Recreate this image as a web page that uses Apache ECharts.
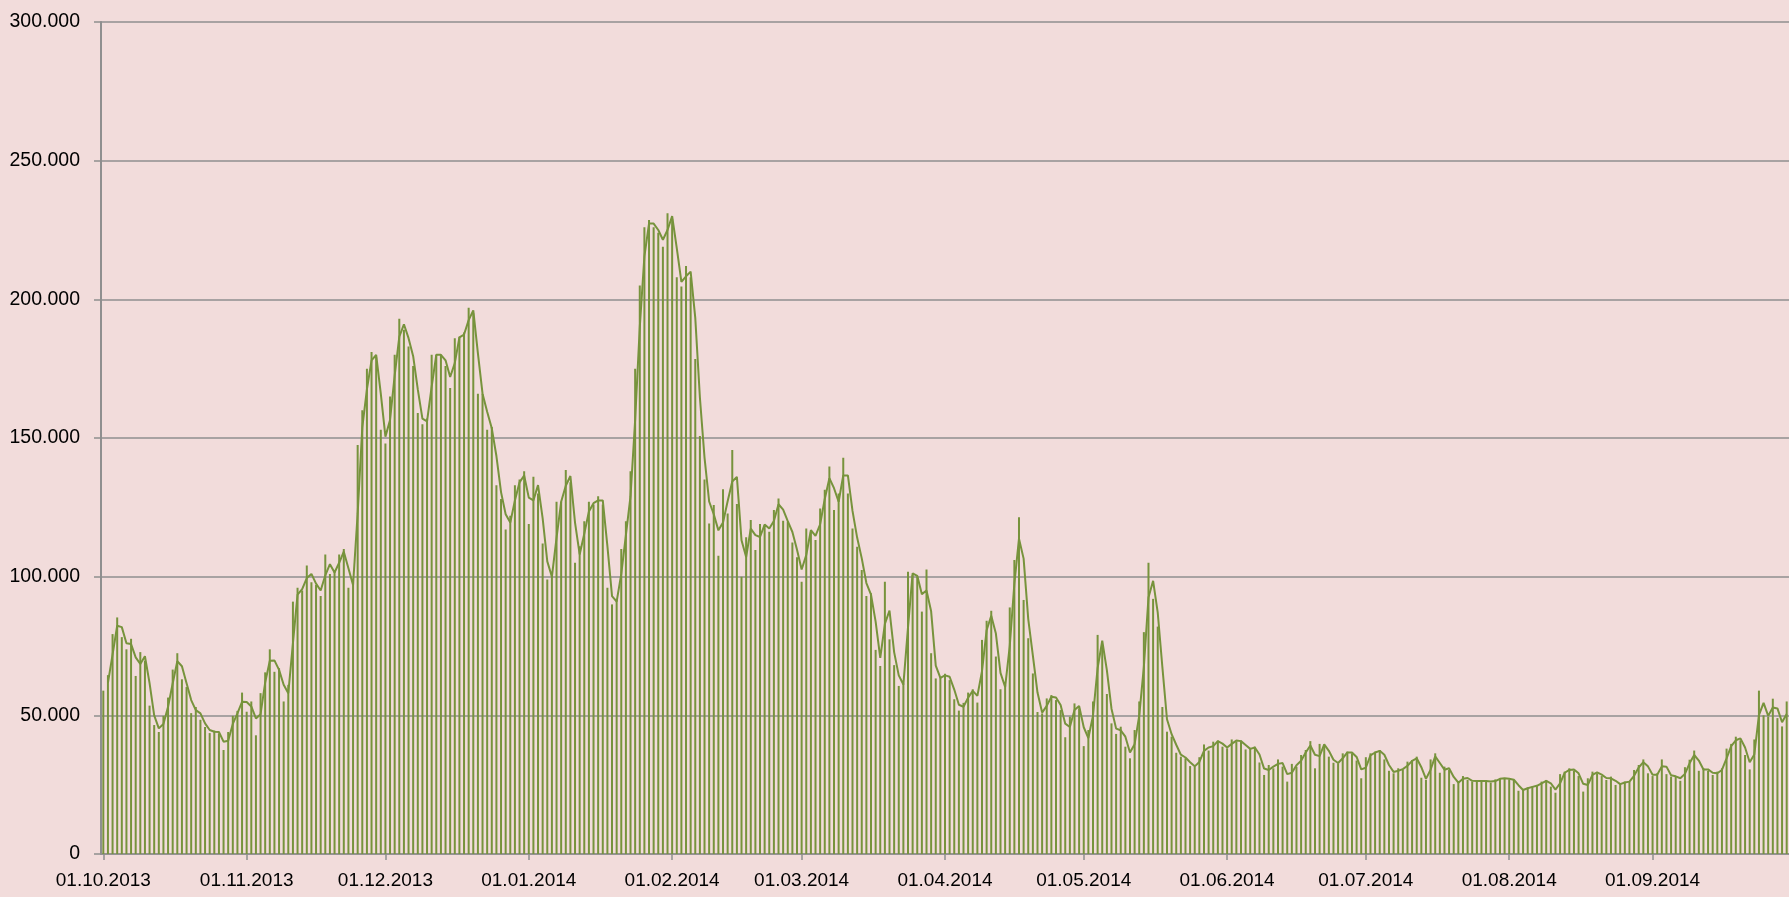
<!DOCTYPE html>
<html>
<head>
<meta charset="utf-8">
<title>Tageswerte 01.10.2013 - 30.09.2014</title>
<script src="https://cdn.jsdelivr.net/npm/echarts@6/dist/echarts.min.js"></script>
<style>
  html, body { margin: 0; padding: 0; background: #F2DCDB; }
  #chart { width: 1789px; height: 897px; }
</style>
</head>
<body>
<div id="chart"></div>
<script>
// Tageswerte (in Tausend), 01.10.2013 .. 30.09.2014
const dailyValues = [
  58.9, 64.5, 79.3, 85.3, 78.2, 73.8, 77.6, 64.2, 72.8, 69.7,
  53.5, 46.5, 44.0, 49.8, 56.4, 66.5, 72.4, 63.0, 60.2, 50.8,
  53.0, 48.4, 45.8, 43.6, 44.5, 43.5, 37.5, 44.0, 49.8, 51.6,
  58.2, 51.3, 55.0, 42.8, 58.0, 65.5, 73.8, 65.7, 67.0, 55.0,
  61.0, 91.0, 96.0, 95.0, 104.0, 98.0, 97.0, 93.0, 108.0, 101.0,
  102.0, 108.0, 110.0, 96.0, 98.0, 147.5, 160.0, 175.0, 181.0, 179.0,
  153.0, 148.0, 165.0, 180.0, 193.0, 189.0, 183.0, 176.0, 159.0, 155.0,
  157.0, 180.0, 180.0, 180.0, 176.0, 168.0, 186.0, 186.5, 188.0, 197.0,
  195.0, 166.0, 166.0, 153.0, 154.0, 133.0, 128.0, 117.0, 122.0, 133.0,
  135.0, 138.0, 119.0, 136.0, 130.0, 112.0, 99.0, 101.0, 127.0, 127.0,
  138.5, 134.0, 105.0, 111.0, 120.0, 127.0, 126.0, 129.0, 126.0, 96.0,
  90.0, 92.0, 110.0, 120.0, 138.0, 175.0, 205.0, 226.0, 228.6, 226.0,
  224.0, 219.0, 231.0, 229.0, 208.0, 204.6, 212.0, 208.0, 178.5, 150.7,
  135.0, 119.2, 125.8, 107.5, 131.5, 122.8, 145.7, 126.2, 100.0, 114.2,
  120.4, 109.6, 119.0, 118.6, 116.2, 124.0, 128.2, 120.2, 119.8, 112.3,
  107.0, 98.2, 117.4, 116.2, 113.2, 124.6, 131.3, 139.7, 124.0, 130.0,
  142.9, 130.0, 117.4, 110.8, 102.4, 93.0, 94.0, 73.6, 67.8, 98.2,
  77.4, 68.1, 60.6, 61.5, 101.8, 100.6, 100.0, 87.4, 102.6, 72.4,
  63.3, 63.7, 65.0, 62.7, 55.8, 51.7, 54.5, 58.2, 59.4, 54.6,
  77.2, 84.1, 87.7, 71.2, 59.4, 61.0, 88.9, 106.0, 121.4, 91.6,
  77.8, 65.1, 51.2, 50.7, 56.1, 57.3, 55.5, 51.9, 42.1, 49.5,
  54.3, 52.5, 38.9, 44.7, 55.0, 79.0, 74.8, 57.7, 47.1, 43.3,
  45.9, 38.7, 34.5, 44.7, 55.0, 80.0, 105.0, 92.0, 82.0, 53.0,
  44.1, 42.3, 36.5, 35.1, 34.5, 31.7, 31.5, 34.9, 39.5, 37.3,
  40.5, 40.9, 38.7, 38.1, 41.3, 40.5, 40.9, 37.7, 38.1, 38.7,
  33.0, 28.5, 32.1, 30.9, 34.1, 31.5, 26.1, 32.5, 31.5, 35.7,
  37.5, 40.7, 30.9, 39.7, 39.3, 35.1, 32.9, 32.7, 36.3, 36.9,
  36.3, 33.7, 27.3, 34.9, 36.3, 36.9, 37.5, 34.1, 30.0, 29.1,
  30.9, 30.3, 33.3, 33.9, 35.1, 27.5, 26.7, 34.1, 36.3, 29.3,
  31.5, 30.3, 25.2, 26.1, 28.1, 26.7, 26.1, 26.4, 26.1, 26.4,
  25.7, 26.9, 27.3, 27.3, 26.9, 26.7, 22.8, 23.3, 24.0, 24.3,
  24.9, 26.1, 26.7, 24.3, 22.1, 28.8, 29.7, 30.9, 30.0, 28.1,
  22.5, 27.3, 29.7, 29.1, 28.1, 26.7, 27.9, 24.9, 25.5, 26.1,
  26.1, 30.3, 32.1, 34.1, 29.1, 28.1, 29.1, 34.1, 28.8, 27.9,
  28.1, 26.4, 31.3, 34.0, 37.3, 30.0, 30.9, 30.0, 28.5, 29.7,
  30.9, 38.0, 39.7, 42.3, 41.0, 35.7, 30.5, 41.3, 58.9, 50.0,
  49.5, 56.0, 49.0, 46.0, 55.0
];

// gleitender Durchschnitt (2 Tage)
const trendValues = [
  '-', 61.7, 71.9, 82.3, 81.8, 76.0, 75.7, 70.9, 68.5, 71.3,
  61.6, 50.0, 45.3, 46.9, 53.1, 61.5, 69.5, 67.7, 61.6, 55.5,
  51.9, 50.7, 47.1, 44.7, 44.1, 44.0, 40.5, 40.8, 46.9, 50.7,
  54.9, 54.8, 53.2, 48.9, 50.4, 61.8, 69.7, 69.8, 66.4, 61.0,
  58.0, 76.0, 93.5, 95.5, 99.5, 101.0, 97.5, 95.0, 100.5, 104.5,
  101.5, 105.0, 109.0, 103.0, 97.0, 122.8, 153.8, 167.5, 178.0, 180.0,
  166.0, 150.5, 156.5, 172.5, 186.5, 191.0, 186.0, 179.5, 167.5, 157.0,
  156.0, 168.5, 180.0, 180.0, 178.0, 172.0, 177.0, 186.3, 187.3, 192.5,
  196.0, 180.5, 166.0, 159.5, 153.5, 143.5, 130.5, 122.5, 119.5, 127.5,
  134.0, 136.5, 128.5, 127.5, 133.0, 121.0, 105.5, 100.0, 114.0, 127.0,
  132.8, 136.3, 119.5, 108.0, 115.5, 123.5, 126.5, 127.5, 127.5, 111.0,
  93.0, 91.0, 101.0, 115.0, 129.0, 156.5, 190.0, 215.5, 227.3, 227.3,
  225.0, 221.5, 225.0, 230.0, 218.5, 206.3, 208.3, 210.0, 193.3, 164.6,
  142.9, 127.1, 122.5, 116.7, 119.5, 127.2, 134.3, 136.0, 113.1, 107.1,
  117.3, 115.0, 114.3, 118.8, 117.4, 120.1, 126.1, 124.2, 120.0, 116.1,
  109.7, 102.6, 107.8, 116.8, 114.7, 118.9, 128.0, 135.5, 131.9, 127.0,
  136.5, 136.5, 123.7, 114.1, 106.6, 97.7, 93.5, 83.8, 70.7, 83.0,
  87.8, 72.8, 64.4, 61.1, 81.7, 101.2, 100.3, 93.7, 95.0, 87.5,
  67.9, 63.5, 64.4, 63.9, 59.3, 53.8, 53.1, 56.4, 58.8, 57.0,
  65.9, 80.7, 85.9, 79.5, 65.3, 60.2, 75.0, 97.5, 113.7, 106.5,
  84.7, 71.5, 58.2, 51.0, 53.4, 56.7, 56.4, 53.7, 47.0, 45.8,
  51.9, 53.4, 45.7, 41.8, 49.9, 67.0, 76.9, 66.3, 52.4, 45.2,
  44.6, 42.3, 36.6, 39.6, 49.9, 67.5, 92.5, 98.5, 87.0, 67.5,
  48.6, 43.2, 39.4, 35.8, 34.8, 33.1, 31.6, 33.2, 37.2, 38.4,
  38.9, 40.7, 39.8, 38.4, 39.7, 40.9, 40.7, 39.3, 37.9, 38.4,
  35.9, 30.8, 30.3, 31.5, 32.5, 32.8, 28.8, 29.3, 32.0, 33.6,
  36.6, 39.1, 35.8, 35.3, 39.5, 37.2, 34.0, 32.8, 34.5, 36.6,
  36.6, 35.0, 30.5, 31.1, 35.6, 36.6, 37.2, 35.8, 32.1, 29.6,
  30.0, 30.6, 31.8, 33.6, 34.5, 31.3, 27.1, 30.4, 35.2, 32.8,
  30.4, 30.9, 27.8, 25.7, 27.1, 27.4, 26.4, 26.3, 26.3, 26.3,
  26.1, 26.3, 27.1, 27.3, 27.1, 26.8, 24.8, 23.1, 23.7, 24.2,
  24.6, 25.5, 26.4, 25.5, 23.2, 25.5, 29.3, 30.3, 30.5, 29.1,
  25.3, 24.9, 28.5, 29.4, 28.6, 27.4, 27.3, 26.4, 25.2, 25.8,
  26.1, 28.2, 31.2, 33.1, 31.6, 28.6, 28.6, 31.6, 31.5, 28.4,
  28.0, 27.3, 28.9, 32.7, 35.7, 33.7, 30.5, 30.5, 29.3, 29.1,
  30.3, 34.5, 38.9, 41.0, 41.7, 38.4, 33.1, 35.9, 50.1, 54.5,
  49.8, 52.8, 52.5, 47.5, 50.5
];

const yTicks = [0, 50, 100, 150, 200, 250, 300];

// Kategorien: jeder Tag ab 01.10.2013
const startDate = new Date(2013, 9, 1);
const days = [];
for (let i = 0; i < dailyValues.length; i++) {
  const d = new Date(startDate.getFullYear(), startDate.getMonth(), startDate.getDate() + i);
  const dd = String(d.getDate()).padStart(2, '0');
  const mm = String(d.getMonth() + 1).padStart(2, '0');
  days.push(dd + '.' + mm + '.' + d.getFullYear());
}

const isMonthStart = (idx, val) => val.slice(0, 2) === '01';

const gridGray = '#8F8F8F';
const green = '#77933C';
const labelFont = '"Liberation Sans", Arial, sans-serif';

const chart = echarts.init(document.getElementById('chart'));
chart.setOption({
  backgroundColor: '#F2DCDB',
  animation: false,
  textStyle: { fontFamily: labelFont },
  grid: {
    left: 101, right: 0, top: 22, bottom: 43,
    containLabel: false,
    outerBoundsMode: 'none'
  },
  xAxis: {
    type: 'category',
    data: days,
    boundaryGap: true,
    axisLine: { show: true, lineStyle: { color: gridGray, width: 1.5 } },
    axisTick: {
      show: true,
      interval: isMonthStart,
      alignWithLabel: true,
      length: 6,
      lineStyle: { color: gridGray, width: 1.5 }
    },
    axisLabel: {
      interval: isMonthStart,
      color: '#000',
      fontFamily: labelFont,
      fontSize: 19,
      margin: 17
    },
    splitLine: { show: false }
  },
  yAxis: {
    type: 'value',
    min: yTicks[0],
    max: yTicks[yTicks.length - 1],
    interval: 50,
    axisLine: { show: true, lineStyle: { color: gridGray, width: 2 } },
    axisTick: { show: true, length: 7, lineStyle: { color: gridGray, width: 1.5 } },
    axisLabel: {
      color: '#000',
      fontFamily: labelFont,
      fontSize: 19.5,
      margin: 21,
      formatter: v => (v === 0 ? '0' : v + '.000')
    },
    splitLine: { show: true, lineStyle: { color: gridGray, width: 1.5 } }
  },
  series: [
    {
      name: 'Tageswert',
      type: 'bar',
      data: dailyValues,
      barWidth: 2,
      itemStyle: { color: green },
      silent: true
    },
    {
      name: 'Gleitender Durchschnitt',
      type: 'line',
      data: trendValues,
      symbol: 'none',
      smooth: false,
      lineStyle: { color: green, width: 2 },
      silent: true
    }
  ]
});
</script>
</body>
</html>
